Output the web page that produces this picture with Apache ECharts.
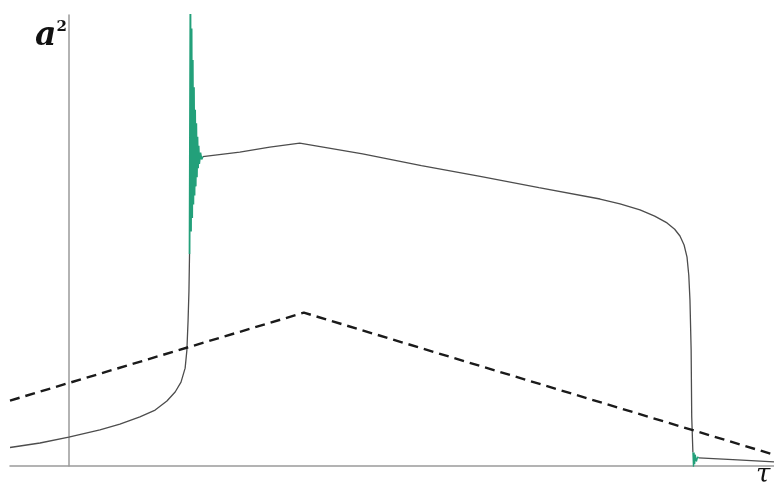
<!DOCTYPE html>
<html lang="en">
<head>
  <meta charset="UTF-8">
  <title>a2 vs tau</title>
  <script src="https://cdn.jsdelivr.net/npm/echarts@6/dist/echarts.min.js"></script>
  <style>
    html, body { margin: 0; padding: 0; background: #fff; }
    #main { width: 774px; height: 482px; }
  </style>
</head>
<body>
<div id="main"></div>
<script>
  // dashed reference line (tau, a^2)
  var dashedPts = [[-1, 0.145], [4, 0.34], [12, 0.025]];

  // main solid curve, before the jump
  var risePts = [[-1, 0.041], [-0.49, 0.051], [0, 0.064], [0.53, 0.08], [0.87, 0.093],
    [1.21, 0.109], [1.47, 0.124], [1.67, 0.144], [1.81, 0.164], [1.91, 0.186],
    [1.98, 0.217], [2.01, 0.257], [2.03, 0.322], [2.045, 0.388], [2.055, 0.47]];

  // plateau after the oscillation, then the fall
  var plateauPts = [[2.28, 0.686], [2.91, 0.696], [3.42, 0.707], [3.93, 0.716],
    [5.0, 0.692], [6.0, 0.666], [7.0, 0.642], [8.0, 0.617], [9.04, 0.592],
    [9.38, 0.581], [9.72, 0.568], [9.97, 0.554], [10.18, 0.539], [10.31, 0.525],
    [10.4, 0.51], [10.47, 0.49], [10.52, 0.463], [10.55, 0.423], [10.57, 0.368],
    [10.59, 0.257], [10.6, 0.109], [10.62, 0.03]];

  // tail after the drop
  var tailPts = [[10.72, 0.018], [11.3, 0.014], [12, 0.009]];

  // green ringing at the jump
  var ringPts = [[2.055, 0.47], [2.07, 1.05], [2.08, 0.52], [2.09, 0.97], [2.1, 0.55],
    [2.11, 0.9], [2.12, 0.58], [2.13, 0.84], [2.14, 0.6], [2.15, 0.79], [2.16, 0.62],
    [2.17, 0.76], [2.18, 0.64], [2.19, 0.73], [2.2, 0.66], [2.21, 0.71], [2.22, 0.67],
    [2.24, 0.695], [2.26, 0.68], [2.28, 0.686]];

  // small green ringing at the drop
  var ringLowPts = [[10.62, 0.03], [10.63, -0.002], [10.64, 0.03], [10.65, 0.004],
    [10.66, 0.025], [10.68, 0.01], [10.7, 0.02], [10.72, 0.018]];

  var chart = echarts.init(document.getElementById('main'));
  var grey = '#4d4d4d';
  var green = '#23a07a';

  chart.setOption({
    animation: false,
    grid: { left: 10, right: 0, top: 15, bottom: 16 },
    xAxis: {
      type: 'value', min: -1, max: 12,
      axisLine: { lineStyle: { color: '#9a9a9a', width: 1.5 } },
      axisTick: { show: false }, axisLabel: { show: false }, splitLine: { show: false }
    },
    yAxis: {
      type: 'value', min: 0, max: 1,
      axisLine: { show: true, onZero: true, lineStyle: { color: '#9a9a9a', width: 1.5 } },
      axisTick: { show: false }, axisLabel: { show: false }, splitLine: { show: false }
    },
    series: [
      { type: 'line', data: risePts, showSymbol: false, lineStyle: { color: grey, width: 1.3 } },
      { type: 'line', data: plateauPts, showSymbol: false, lineStyle: { color: grey, width: 1.3 } },
      { type: 'line', data: tailPts, showSymbol: false, lineStyle: { color: grey, width: 1.3 } },
      { type: 'line', data: ringPts, showSymbol: false, lineStyle: { color: green, width: 1.8 } },
      { type: 'line', data: ringLowPts, showSymbol: false, lineStyle: { color: green, width: 1.3 } },
      { type: 'line', data: dashedPts, showSymbol: false,
        lineStyle: { color: '#1a1a1a', width: 2.4, type: [10, 6] } }
    ],
    graphic: [
      {
        type: 'text', left: 35, top: 20,
        style: {
          text: '{a|a}{s|2}',
          rich: {
            a: { fontFamily: 'DejaVu Serif', fontStyle: 'italic', fontWeight: 'bold', fontSize: 33, fill: '#111' },
            s: { fontFamily: 'DejaVu Serif', fontWeight: 'bold', fontSize: 15, fill: '#111', verticalAlign: 'top', padding: [0, 0, 18, 0] }
          }
        }
      },
      {
        type: 'text', left: 756, top: 462,
        style: { text: 'τ', fontFamily: 'DejaVu Serif', fontStyle: 'italic', fontSize: 26, fill: '#111' }
      }
    ]
  });
</script>
</body>
</html>
